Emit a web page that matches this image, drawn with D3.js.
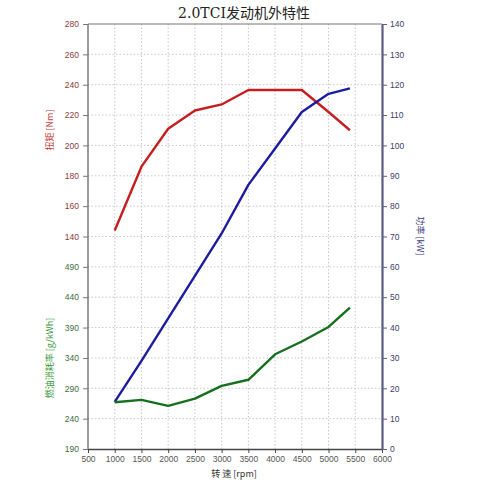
<!DOCTYPE html>
<html>
<head>
<meta charset="utf-8">
<script src="https://cdn.jsdelivr.net/npm/d3@7"></script>
<style>
  body { margin: 0; background: #fff; }
  svg { display: block; }
</style>
</head>
<body>
<div id="chart"></div>
<script>
// engine speed points
const rpm = [1000, 1500, 2000, 2500, 3000, 3500, 4000, 4500, 5000, 5400];
// torque [Nm]
const torque = [144, 186, 211, 223, 227, 236.5, 236.5, 236.5, 222, 210];
// power [kW]
const power = [15.5, 29, 43, 57, 71, 87, 99, 111, 117, 118.8];
// fuel consumption [g/kWh]
const bsfc = [267, 271, 261, 273, 294, 304, 346, 367, 391, 423];

const xTicks = [500, 1000, 1500, 2000, 2500, 3000, 3500, 4000, 4500, 5000, 5500, 6000];
const torqueTicks = [140, 160, 180, 200, 220, 240, 260, 280];
const bsfcTicks = [190, 240, 290, 340, 390, 440, 490];
const powerTicks = [0, 10, 20, 30, 40, 50, 60, 70, 80, 90, 100, 110, 120, 130, 140];

const width = 500, height = 482;
const plot = { left: 88, right: 382, top: 24, bottom: 449 };

const svg = d3.select('#chart').append('svg')
  .attr('width', width)
  .attr('height', height);

const x = d3.scaleLinear().domain([500, 6000]).range([plot.left, plot.right]);
const yTorque = d3.scaleLinear().domain([0, 280]).range([plot.bottom, plot.top]);
const yBsfc = d3.scaleLinear().domain([190, 890]).range([plot.bottom, plot.top]);
const yPower = d3.scaleLinear().domain([0, 140]).range([plot.bottom, plot.top]);

const tickFont = '"Liberation Sans", Arial, sans-serif';

// grid
const grid = svg.append('g');
grid.selectAll('line.v')
  .data(xTicks.slice(1, -1))
  .join('line')
  .attr('x1', d => x(d)).attr('x2', d => x(d))
  .attr('y1', plot.top).attr('y2', plot.bottom)
  .attr('stroke', '#c8c8c8').attr('stroke-width', 1)
  .attr('stroke-dasharray', '1.5,2');
grid.selectAll('line.h')
  .data(powerTicks.slice(1, -1))
  .join('line')
  .attr('x1', plot.left).attr('x2', plot.right)
  .attr('y1', d => yPower(d)).attr('y2', d => yPower(d))
  .attr('stroke', '#c8c8c8').attr('stroke-width', 1)
  .attr('stroke-dasharray', '1.5,2');

// top border
svg.append('line')
  .attr('x1', plot.left).attr('x2', plot.right)
  .attr('y1', plot.top).attr('y2', plot.top)
  .attr('stroke', '#777').attr('stroke-width', 1.2);

// bottom axis
const xAxis = svg.append('g')
  .attr('transform', `translate(0,${plot.bottom})`)
  .call(d3.axisBottom(x).tickValues(xTicks).tickSize(4).tickSizeOuter(0).tickFormat(d3.format('d')));
xAxis.select('.domain').attr('stroke', '#444').attr('stroke-width', 1.5);
xAxis.selectAll('.tick line').attr('stroke', '#444');
xAxis.selectAll('text')
  .attr('font-family', tickFont).attr('font-size', 8.5).attr('fill', '#555')
  .attr('y', 6).attr('dy', '0.8em');

// left axis: torque (upper) + fuel (lower)
const leftAxisT = svg.append('g')
  .attr('transform', `translate(${plot.left},0)`)
  .call(d3.axisLeft(yTorque).tickValues(torqueTicks).tickSize(5).tickSizeOuter(0));
leftAxisT.selectAll('text').attr('fill', '#8a3b3b');
const leftAxisF = svg.append('g')
  .attr('transform', `translate(${plot.left},0)`)
  .call(d3.axisLeft(yBsfc).tickValues(bsfcTicks).tickSize(5).tickSizeOuter(0));
leftAxisF.selectAll('text').attr('fill', '#3f6b3f');
[leftAxisT, leftAxisF].forEach(a => {
  a.select('.domain').remove();
  a.selectAll('.tick line').attr('stroke', '#777');
  a.selectAll('text').attr('font-family', tickFont).attr('font-size', 8.5).attr('x', -9);
});
svg.append('line')
  .attr('x1', plot.left).attr('x2', plot.left)
  .attr('y1', plot.top).attr('y2', plot.bottom)
  .attr('stroke', '#7a7a7a').attr('stroke-width', 1.5);

// right axis: power
const rightAxis = svg.append('g')
  .attr('transform', `translate(${plot.right},0)`)
  .call(d3.axisRight(yPower).tickValues(powerTicks).tickSize(5).tickSizeOuter(0));
rightAxis.select('.domain').attr('stroke', '#5c5c80').attr('stroke-width', 2.2);
rightAxis.selectAll('.tick line').attr('stroke', '#5c5c80');
rightAxis.selectAll('text')
  .attr('font-family', tickFont).attr('font-size', 8.5).attr('fill', '#3d3d66').attr('x', 8);

// series lines
const series = [
  { values: torque, y: yTorque, color: '#c41e1e' },
  { values: power, y: yPower, color: '#1c1ca0' },
  { values: bsfc, y: yBsfc, color: '#14701c' }
];
series.forEach(s => {
  const line = d3.line()
    .x((d, i) => x(rpm[i]))
    .y(d => s.y(d));
  svg.append('path')
    .datum(s.values)
    .attr('d', line)
    .attr('fill', 'none')
    .attr('stroke', s.color)
    .attr('stroke-width', 2.4)
    .attr('stroke-linejoin', 'round');
});

// title
svg.append('text')
  .attr('x', 244).attr('y', 18)
  .attr('text-anchor', 'middle')
  .attr('font-family', '"DejaVu Serif", "Noto Sans CJK SC", serif')
  .attr('font-size', 14)
  .attr('fill', '#222')
  .text('2.0TCI发动机外特性');

// axis titles
const cjk = '"Noto Sans CJK SC", "Liberation Sans", sans-serif';
svg.append('text')
  .attr('transform', 'translate(53,130) rotate(-90)')
  .attr('text-anchor', 'middle')
  .attr('font-family', cjk).attr('font-size', 9)
  .attr('fill', '#c23a3a')
  .text('扭矩 [Nm]');
svg.append('text')
  .attr('transform', 'translate(53,358) rotate(-90)')
  .attr('text-anchor', 'middle')
  .attr('font-family', cjk).attr('font-size', 9)
  .attr('fill', '#3a9a3a')
  .text('燃油消耗率 [g/kWh]');
svg.append('text')
  .attr('transform', 'translate(417,236) rotate(90)')
  .attr('text-anchor', 'middle')
  .attr('font-family', cjk).attr('font-size', 9)
  .attr('fill', '#3a3a80')
  .text('功率 [kW]');
svg.append('text')
  .attr('x', 234).attr('y', 477)
  .attr('text-anchor', 'middle')
  .attr('font-family', cjk).attr('font-size', 9)
  .attr('fill', '#333')
  .text('转 速 [rpm]');
</script>
</body>
</html>
